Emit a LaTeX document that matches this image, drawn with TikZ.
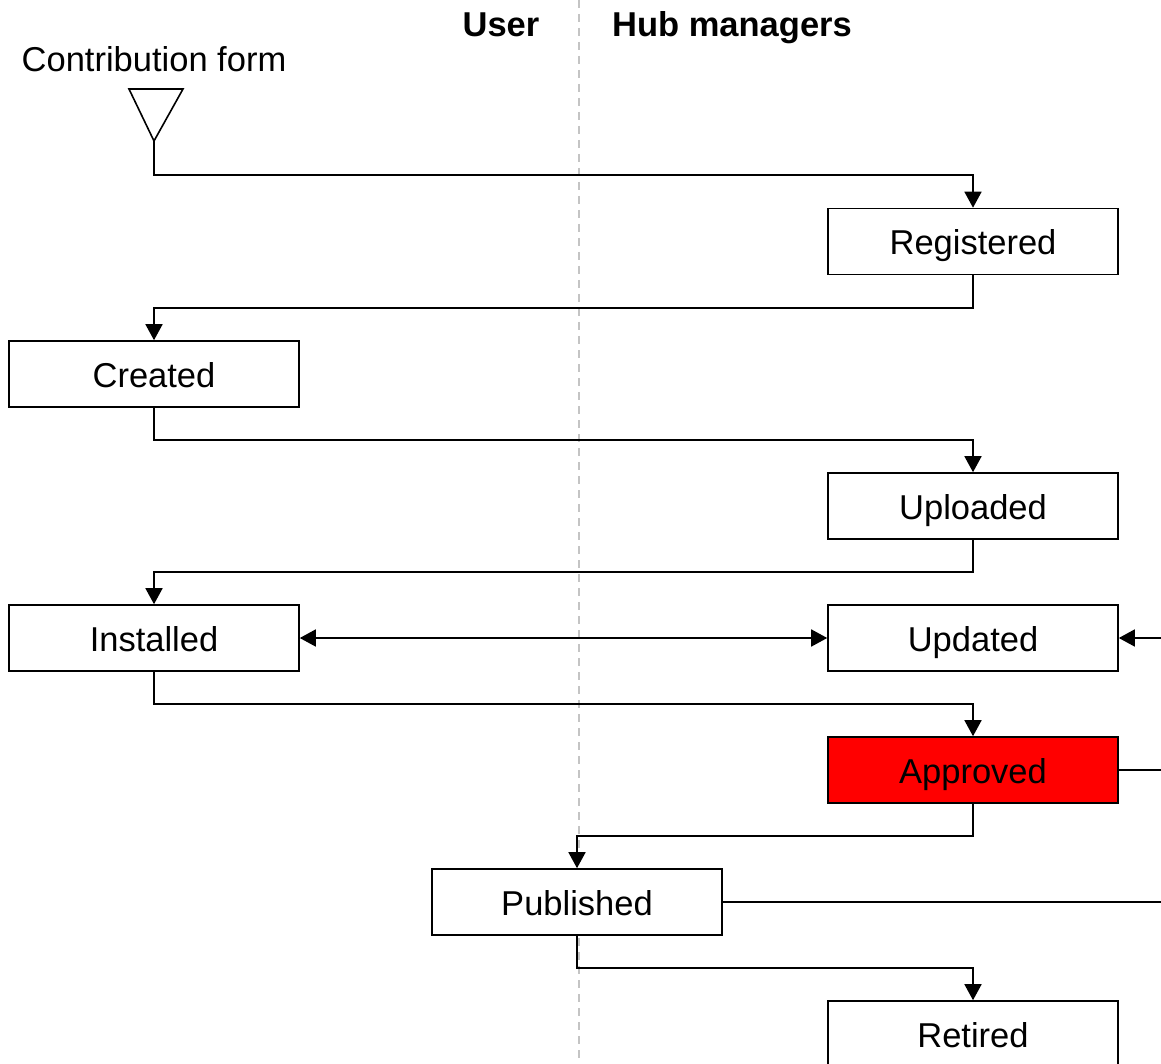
\documentclass[tikz,border=0pt]{standalone}
\usepackage{fontspec}
\setmainfont{Liberation Sans}
\usetikzlibrary{arrows.meta}
\definecolor{lanegray}{HTML}{C4C4C4}
\definecolor{hotred}{HTML}{FF0000}
\begin{document}
\begin{tikzpicture}[x=1pt,y=-1pt,
  font=\fontsize{34.5}{40}\selectfont,
  state/.style={draw=black,line width=1.6pt,fill=white,minimum width=290pt,minimum height=66pt,inner sep=0pt,text height=29pt,text depth=3pt,anchor=center},
  heading/.style={font=\fontsize{34.5}{40}\selectfont\bfseries,anchor=base,inner sep=0pt},
  tip/.tip={Triangle[length=16pt,width=17pt]},
  flow/.style={line width=1.6pt,-tip},
  plain/.style={line width=1.6pt},
  lane/.style={lanegray,line width=1.5pt,dash pattern=on 8pt off 6pt}]
\clip (0,0) rectangle (1161,1064);
\useasboundingbox (0,0) rectangle (1161,1064);

% swimlane divider and headings
\draw[lane] (579,0) -- (579,1064);
\node[heading] (user) at (501,37) {User};
\node[heading] (hub) at (732,37) {Hub managers};

% entry point
\node[anchor=base,inner sep=0pt] (formlabel) at (154,72) {Contribution form};
\draw[line width=1.6pt,line join=miter] (129,89) -- (183,89) -- (154,141) -- cycle;
\coordinate (form) at (154,141);

% lifecycle states
\node[state] (reg) at (973,241.5) {Registered};
\node[state] (cre) at (154,374) {Created};
\node[state] (upl) at (973,506) {Uploaded};
\node[state] (ins) at (154,638) {Installed};
\node[state] (upd) at (973,638) {Updated};
\node[state,fill=hotred] (app) at (973,770) {Approved};
\node[state] (pub) at (577,902) {Published};
\node[state] (ret) at (973,1034) {Retired};

% transitions
\draw[flow] (form) -- ++(0,34) -| (reg.north);
\draw[flow] (reg.south) -- ++(0,33) -| (cre.north);
\draw[flow] (cre.south) -- ++(0,32) -| (upl.north);
\draw[flow] (upl.south) -- ++(0,32) -| (ins.north);
\draw[line width=1.6pt,tip-tip] (ins.east) -- (upd.west);
\draw[flow] (ins.south) -- ++(0,32) -| (app.north);
\draw[flow] (app.south) -- ++(0,32) -| (pub.north);
\draw[flow] (pub.south) -- ++(0,32) -| (ret.north);

% links leaving the right edge
\coordinate (updin) at (1161,638);
\coordinate (appout) at (1161,770);
\coordinate (pubout) at (1161,902);
\draw[flow] (updin) -- (upd.east);
\draw[plain] (app.east) -- (appout);
\draw[plain] (pub.east) -- (pubout);
\end{tikzpicture}
\end{document}
